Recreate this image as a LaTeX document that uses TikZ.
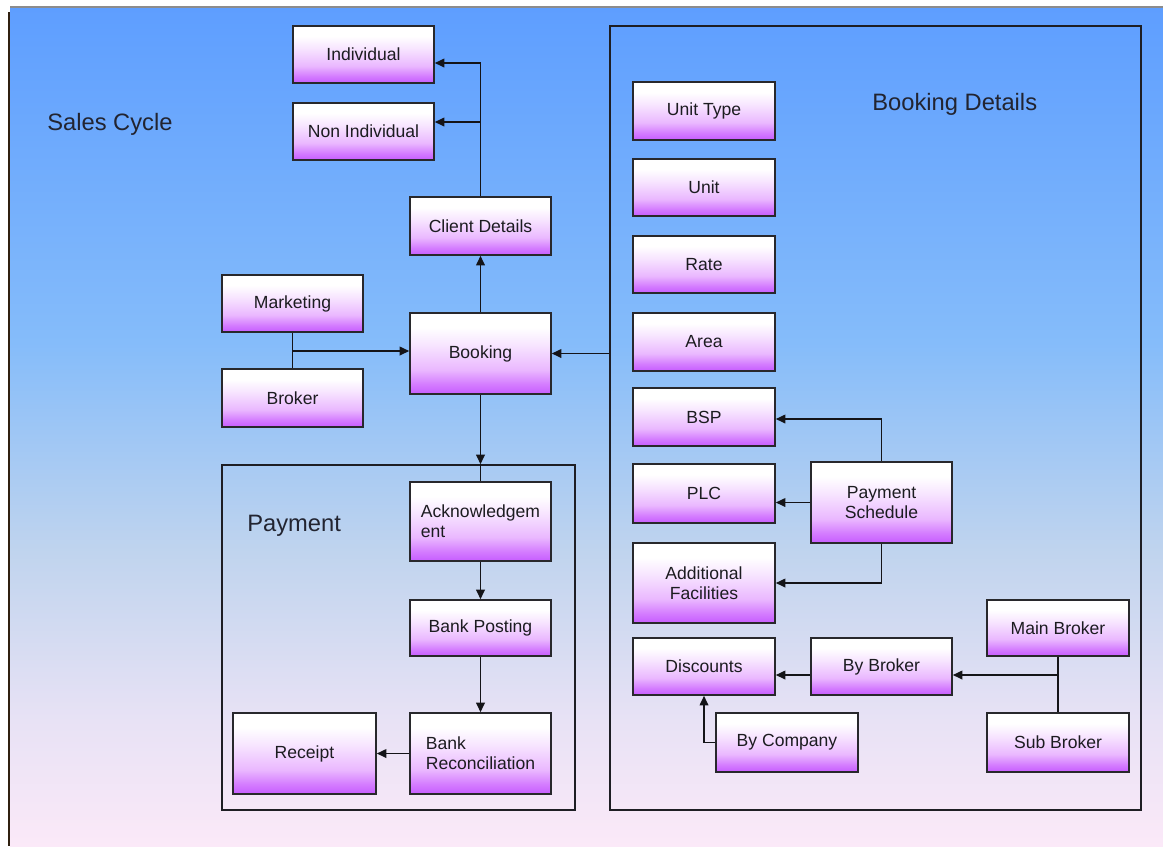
\documentclass[tikz,border=0pt]{standalone}
\usepackage{fontspec}
\setmainfont{Liberation Sans}
\usetikzlibrary{arrows.meta}

% colours
\definecolor{boxviolet}{RGB}{198,92,255}
\definecolor{boxmidA}{RGB}{212,124,255}
\definecolor{boxmidB}{RGB}{234,184,255}
\definecolor{boxmidC}{RGB}{247,228,255}
\definecolor{boxline}{RGB}{40,40,44}
\definecolor{frameline}{RGB}{30,30,36}
\definecolor{connline}{RGB}{20,20,24}
\definecolor{txt}{RGB}{28,28,32}
\definecolor{titletxt}{RGB}{34,36,48}
\definecolor{bgA}{RGB}{94,158,255}
\definecolor{bgB}{RGB}{133,188,250}
\definecolor{bgC}{RGB}{192,212,238}
\definecolor{bgD}{RGB}{232,226,245}
\definecolor{bgE}{RGB}{251,233,248}

% box fill: white at the top, violet at the bottom
\pgfdeclareverticalshading{boxgrad}{100bp}{color(0bp)=(boxviolet); color(25bp)=(boxviolet);
  color(31bp)=(boxmidA); color(40bp)=(boxmidB); color(55bp)=(boxmidC); color(66bp)=(white); color(100bp)=(white)}
% page background: blue at the top, pale pink at the bottom
\pgfdeclareverticalshading{bggrad}{100bp}{color(0bp)=(bgE); color(25bp)=(bgE);
  color(32.5bp)=(bgD); color(42.5bp)=(bgC); color(55bp)=(bgB); color(75bp)=(bgA); color(100bp)=(bgA)}

% \placenode{style}{name}{x1}{y1}{x2}{y2}{text}
\newcommand{\placenode}[7]{%
  \node[#1,minimum width={(#5-#3)*0.02cm},minimum height={(#6-#4)*0.02cm}]
    (#2) at ({(#3+#5)/2},{(#4+#6)/2}) {#7};}

\begin{document}
\begin{tikzpicture}[x=0.02cm,y=-0.02cm,
  box/.style={draw=boxline,line width=0.9pt,shade,shading=boxgrad,
    font=\fontsize{10}{11.5}\selectfont,text=txt,align=center,inner sep=2pt},
  frame/.style={draw=frameline,line width=0.9pt,inner sep=0pt},
  title/.style={font=\fontsize{13.5}{16}\selectfont,text=titletxt,anchor=base west,inner sep=0pt},
  conn/.style={draw=connline,line width=0.8pt,-{Triangle[length=5.5pt,width=5pt]}},
  link/.style={draw=connline,line width=0.8pt}]

\useasboundingbox (0,0) rectangle (1163,846);
\fill[white] (0,0) rectangle (1163,846);
\shade[shading=bggrad] (10,7) rectangle (1163,846);
\draw[black!45,line width=0.6pt] (10,7) -- (1163,7);
\draw[black!75!brown,line width=1pt] (9,12) -- (9,846);

% group frames
\placenode{frame}{bdet}{610}{26}{1141}{810}{}
\placenode{frame}{pay}{222}{465}{575}{810}{}

% titles
\node[title] (tsales) at (47,130) {Sales Cycle};
\node[title] (tbdet) at (872,110) {Booking Details};
\node[title] (tpay) at (247,531) {Payment};

% sales cycle boxes
\placenode{box}{indiv}{293}{26}{434}{83}{Individual}
\placenode{box}{nonind}{293}{103}{434}{160}{Non Individual}
\placenode{box}{client}{410}{197}{551}{255}{Client Details}
\placenode{box}{mkt}{222}{275}{363}{332}{Marketing}
\placenode{box}{brk}{222}{369}{363}{427}{Broker}
\placenode{box}{booking}{410}{313}{551}{394}{Booking}

% payment boxes
\placenode{box,align=left}{ack}{410}{482}{551}{561}{Acknowledgem\\ent}
\placenode{box}{bpost}{410}{600}{551}{656}{Bank Posting}
\placenode{box,align=left}{brec}{410}{713}{551}{794}{Bank\\Reconciliation}
\placenode{box}{receipt}{233}{713}{376}{794}{Receipt}

% booking detail boxes
\placenode{box}{unittype}{633}{82}{775}{140}{Unit Type}
\placenode{box}{unit}{633}{159}{775}{216}{Unit}
\placenode{box}{rate}{633}{236}{775}{293}{Rate}
\placenode{box}{area}{633}{313}{775}{371}{Area}
\placenode{box}{bsp}{633}{388}{775}{446}{BSP}
\placenode{box}{plc}{633}{464}{775}{523}{PLC}
\placenode{box}{addf}{633}{543}{775}{623}{Additional\\Facilities}
\placenode{box}{psched}{811}{462}{952}{543}{Payment\\Schedule}
\placenode{box}{disc}{633}{638}{775}{695}{Discounts}
\placenode{box}{bybrk}{811}{638}{952}{695}{By Broker}
\placenode{box}{mbrk}{987}{600}{1129}{656}{Main Broker}
\placenode{box}{sbrk}{987}{713}{1129}{772}{Sub Broker}
\placenode{box}{bycomp}{716}{713}{858}{772}{By Company}

% connectors
\draw[conn] (client.north) -- (client.north |- 0,63) -- (indiv.east |- 0,63);
\draw[conn] (client.north |- 0,122) -- (nonind.east |- 0,122);
\draw[conn] (booking.north) -- (client.south);
\draw[link] (mkt.south) -- (brk.north);
\draw[conn] (mkt.south |- 0,351) -- (booking.west |- 0,351);
\draw[conn] (bdet.west |- booking.east) -- (booking.east);
\draw[conn] (booking.south) -- (booking.south |- pay.north);
\draw[link] (booking.south |- pay.north) -- (ack.north);
\draw[conn] (ack.south) -- (bpost.north);
\draw[conn] (bpost.south) -- (brec.north);
\draw[conn] (brec.west) -- (receipt.east);
\draw[conn] (psched.north) -- (psched.north |- 0,419) -- (bsp.east |- 0,419);
\draw[conn] (psched.west) -- (psched.west -| plc.east);
\draw[conn] (psched.south) |- (addf.east);
\draw[link] (mbrk.south) -- (sbrk.north);
\draw[conn] (mbrk.south |- 0,675) -- (bybrk.east |- 0,675);
\draw[conn] (bybrk.west |- 0,675) -- (disc.east |- 0,675);
\draw[conn] (bycomp.west) -| (disc.south);
\end{tikzpicture}
\end{document}
